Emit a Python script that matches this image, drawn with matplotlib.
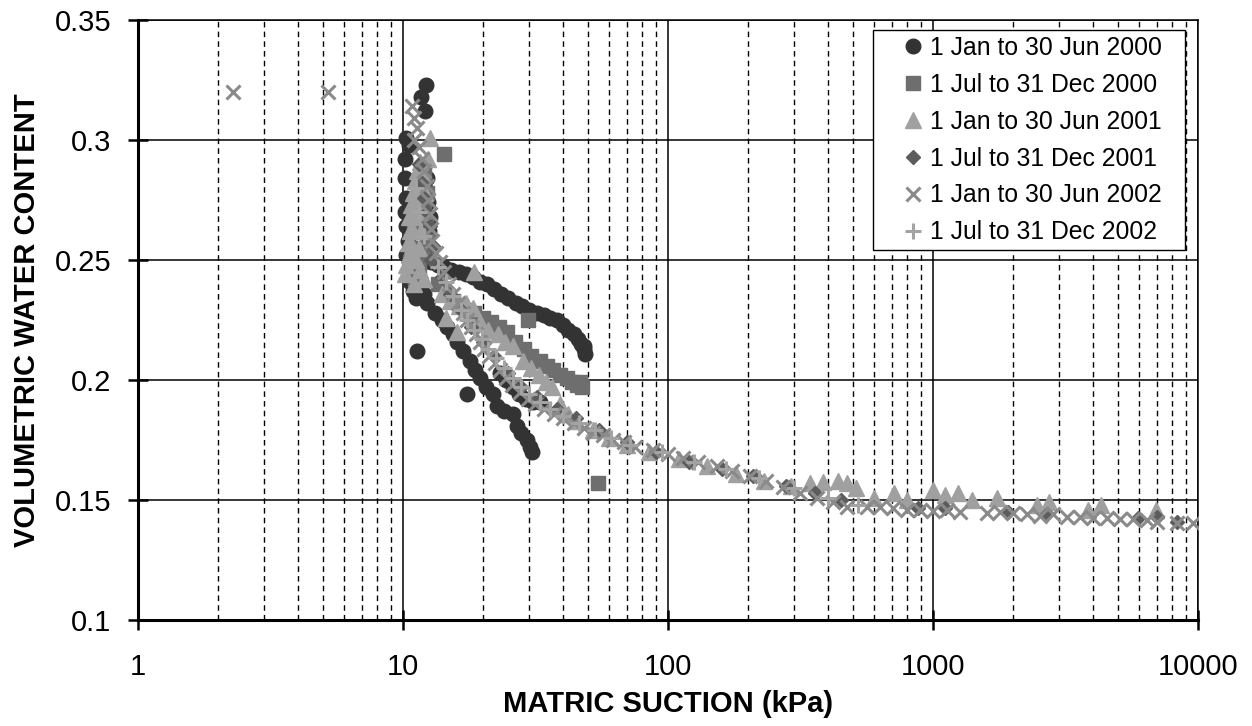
import matplotlib
matplotlib.use("Agg")
from matplotlib import pyplot as plt
from matplotlib.patches import Rectangle
from matplotlib.ticker import FixedLocator, NullFormatter, FuncFormatter

plt.rcParams['font.family'] = ['Liberation Sans', 'DejaVu Sans']

# 1 Jan to 30 Jun 2000 (circles)
s1_x = [12.2, 11.7, 12.1, 10.3, 10.5, 10.2, 10.2, 10.3, 10.2, 10.3, 10.4, 10.3, 10.5, 10.6, 10.9, 11.2,
        12.0, 12.3, 12.2, 12.4, 12.6, 12.5, 12.2, 11.8, 11.5, 11.0, 11.4, 12.0, 10.9, 11.3,
        12.8, 13.5, 14.3, 15.2, 16.2, 17.3, 18.4, 19.5, 20.8, 22.0, 23.5, 25.0, 26.6, 28.2, 30.0,
        32.0, 34.0, 36.0, 38.2, 40.0, 42.0, 44.0, 45.8, 47.0, 48.0, 48.6, 48.3,
        12.3, 13.2, 14.0, 14.7, 15.4, 16.0, 16.9, 17.9, 18.7, 19.5, 20.6, 21.8, 22.6, 24.0, 26.0,
        26.9, 28.0, 29.4, 30.6, 30.2,
        23.2, 24.5, 26.0, 27.5, 29.0, 31.0, 32.9,
        11.3, 17.4]
s1_y = [0.323, 0.318, 0.312, 0.301, 0.298, 0.292, 0.284, 0.276, 0.270, 0.264, 0.258, 0.252, 0.246, 0.241, 0.237, 0.234,
        0.289, 0.284, 0.279, 0.274, 0.268, 0.262, 0.256, 0.251, 0.247, 0.243, 0.238, 0.236, 0.255, 0.262,
        0.249, 0.248, 0.247, 0.246, 0.245, 0.244, 0.243, 0.241, 0.240, 0.238, 0.236, 0.234, 0.232, 0.231, 0.229,
        0.228, 0.227, 0.226, 0.225, 0.223, 0.221, 0.219, 0.217, 0.215, 0.213, 0.211, 0.214,
        0.232, 0.228, 0.225, 0.222, 0.219, 0.216, 0.212, 0.208, 0.204, 0.201, 0.197, 0.194, 0.189, 0.187, 0.186,
        0.181, 0.178, 0.175, 0.170, 0.172,
        0.203, 0.200, 0.197, 0.194, 0.192, 0.191, 0.191,
        0.212, 0.194]

# 1 Jul to 31 Dec 2000 (squares)
s2_x = [10.6, 10.8, 11.0, 11.2, 11.3, 11.6, 12.0, 12.2, 12.3, 11.9, 11.5, 11.1, 12.0, 12.3, 14.3,
        13.5, 14.5, 15.5, 16.5, 17.5, 18.6, 20.0, 21.5, 23.0, 24.7, 26.5, 28.5, 30.5, 32.9, 34.8,
        36.8, 39.0, 41.5, 43.5, 45.5, 46.7, 47.5, 29.6, 54.4]
s2_y = [0.249, 0.255, 0.262, 0.268, 0.274, 0.280, 0.272, 0.265, 0.258, 0.252, 0.246, 0.242, 0.286, 0.278, 0.294,
        0.240, 0.236, 0.233, 0.231, 0.229, 0.228, 0.226, 0.224, 0.222, 0.220, 0.216, 0.213, 0.210, 0.208, 0.206,
        0.204, 0.202, 0.201, 0.199, 0.198, 0.199, 0.197, 0.225, 0.157]

# 1 Jan to 30 Jun 2001 (triangles)
s3_x = [10.3, 10.5, 10.4, 10.6, 10.5, 10.7, 10.9, 11.1, 11.3, 11.6, 11.8, 11.4, 11.2, 11.0, 10.9, 10.8,
        11.2, 11.6, 12.0, 11.5, 11.7, 11.9, 12.1, 12.6, 12.4, 10.2, 11.0,
        18.5, 14.0, 15.0, 16.2, 17.3, 18.4, 19.5, 21.0, 22.8, 24.3, 26.0, 28.4, 30.5, 32.5, 34.5, 36.5,
        39.2, 42.0, 14.5, 16.0, 45.0, 52.0, 60.0, 70.0, 85.0, 110, 140, 180, 230, 290, 343, 386, 437,
        473, 510, 600, 713, 800, 1000, 1111, 1248, 1400, 1745, 2465, 2738, 3852, 4320, 6942]
s3_y = [0.248, 0.252, 0.257, 0.262, 0.268, 0.273, 0.278, 0.283, 0.287, 0.291, 0.286, 0.280, 0.274, 0.268, 0.262, 0.256,
        0.250, 0.246, 0.242, 0.255, 0.262, 0.270, 0.278, 0.301, 0.292, 0.244, 0.240,
        0.245, 0.236, 0.233, 0.231, 0.232, 0.230, 0.224, 0.221, 0.219, 0.216, 0.214, 0.208, 0.205, 0.202, 0.199, 0.197,
        0.190, 0.186, 0.226, 0.220, 0.183, 0.179, 0.176, 0.173, 0.170, 0.167, 0.164, 0.161, 0.158, 0.156, 0.157, 0.1575, 0.158,
        0.157, 0.155, 0.151, 0.153, 0.150, 0.154, 0.152, 0.153, 0.150, 0.151, 0.148, 0.149, 0.146, 0.148, 0.146]

# 1 Jul to 31 Dec 2001 (diamonds)
s4_x = [11.5, 11.8, 12.0, 12.3, 12.6, 13.0, 12.8, 14.0, 15.0, 16.5, 18.0, 20.0, 22.0, 25.0, 28.0, 32.0,
        38.0, 45.0, 55.0, 70.0, 90.0, 120, 160, 210, 280, 360, 450, 877, 1111, 1912, 2700, 5940, 7000, 8300]
s4_y = [0.290, 0.282, 0.276, 0.270, 0.264, 0.256, 0.250, 0.243, 0.236, 0.229, 0.222, 0.216, 0.210, 0.203, 0.197, 0.193,
        0.188, 0.184, 0.179, 0.174, 0.170, 0.166, 0.163, 0.160, 0.156, 0.153, 0.150, 0.1467, 0.1467, 0.145, 0.144, 0.1425, 0.143, 0.141]

# 1 Jan to 30 Jun 2002 (crosses)
s5_x = [2.28, 5.21,
        10.8, 11.0, 11.3, 11.0, 11.5, 11.8, 12.0, 12.3, 12.4, 12.6, 12.8, 12.9, 13.3, 13.8, 14.3, 14.9,
        15.5, 16.1, 16.8, 17.4, 18.1, 18.8, 19.5, 20.3, 21.2, 22.2, 23.3, 24.5, 25.8, 27.6, 29.5, 31.5,
        34.0, 37.0, 40.0, 44.0, 48.0, 52.0, 57.0, 62.0, 68.0, 75.0, 88.0, 100, 114, 130, 153, 175, 204,
        235, 272, 315, 364, 420, 473,
        564, 630, 707, 797, 894, 1000, 1129, 1265, 1600, 1790, 2005, 2263, 2535, 2840, 3206, 3590,
        4020, 4538, 5083, 5692, 6426, 7000, 8340, 9580]
s5_y = [0.320, 0.320,
        0.314, 0.309, 0.305, 0.300, 0.297, 0.292, 0.287, 0.281, 0.275, 0.269, 0.263, 0.258, 0.253, 0.249, 0.245, 0.240,
        0.236, 0.232, 0.228, 0.225, 0.222, 0.219, 0.216, 0.213, 0.210, 0.207, 0.204, 0.201, 0.198, 0.195, 0.192, 0.190,
        0.188, 0.186, 0.184, 0.182, 0.180, 0.178, 0.177, 0.175, 0.174, 0.172, 0.171, 0.169, 0.1675, 0.166, 0.164, 0.162, 0.160,
        0.158, 0.1555, 0.153, 0.151, 0.149, 0.147,
        0.147, 0.147, 0.1465, 0.146, 0.146, 0.1455, 0.146, 0.145, 0.1445, 0.145, 0.1445, 0.144, 0.1435, 0.144, 0.143, 0.143,
        0.1425, 0.1425, 0.142, 0.142, 0.1415, 0.141, 0.1405, 0.1405]

# 1 Jul to 31 Dec 2002 (plus)
s6_x = [11.2, 11.5, 12.0, 13.5, 14.5, 15.5, 16.5, 17.5, 18.5, 19.8, 21.0, 22.5, 24.0, 26.0, 28.0, 30.0,
        33.0, 36.0, 40.0, 46.0, 53.0, 61.0, 72.0, 95.0, 125, 165, 220, 300, 400, 520]
s6_y = [0.280, 0.270, 0.260, 0.247, 0.241, 0.235, 0.229, 0.225, 0.221, 0.217, 0.213, 0.209, 0.205, 0.201, 0.197, 0.194,
        0.191, 0.188, 0.185, 0.182, 0.179, 0.176, 0.173, 0.170, 0.166, 0.163, 0.159, 0.155, 0.151, 0.148]

labels = ["1 Jan to 30 Jun 2000", "1 Jul to 31 Dec 2000", "1 Jan to 30 Jun 2001",
          "1 Jul to 31 Dec 2001", "1 Jan to 30 Jun 2002", "1 Jul to 31 Dec 2002"]

x_ticks = [1, 10, 100, 1000, 10000]
y_ticks = [0.1, 0.15, 0.2, 0.25, 0.3, 0.35]
y_tick_labels = ["0.1", "0.15", "0.2", "0.25", "0.3", "0.35"]

W, H = 1252, 726
fig = plt.figure(figsize=(W / 100, H / 100), dpi=100)
ax = fig.add_axes([138 / W, 1 - 620 / H, 1060 / W, 600 / H])

ax.plot(s1_x, s1_y, 'o', ms=10.5, color='#333333', mec='#333333', label=labels[0], zorder=3)
ax.plot(s2_x, s2_y, 's', ms=10, color='#6e6e6e', mec='#6e6e6e', label=labels[1], zorder=3)
ax.plot(s3_x, s3_y, '^', ms=11, color='#a0a0a0', mec='#a0a0a0', label=labels[2], zorder=3)
ax.plot(s4_x, s4_y, 'D', ms=7, color='#5c5c5c', mec='#5c5c5c', label=labels[3], zorder=3)
ax.plot(s5_x, s5_y, 'x', ms=10, mew=2.2, color='#8a8a8a', label=labels[4], zorder=3)
ax.plot(s6_x, s6_y, '+', ms=11, mew=2.2, color='#a3a3a3', label=labels[5], zorder=3)

ax.set_xscale('log')
ax.set_xlim(1, 10000)
ax.set_ylim(0.1, 0.35)

ax.xaxis.set_major_locator(FixedLocator(x_ticks))
ax.xaxis.set_major_formatter(FuncFormatter(lambda v, p: "%d" % v))
ax.xaxis.set_minor_locator(FixedLocator([m * d for d in [1, 10, 100, 1000] for m in range(2, 10)]))
ax.xaxis.set_minor_formatter(NullFormatter())
ax.set_yticks(y_ticks)
ax.set_yticklabels(y_tick_labels)

ax.grid(True, which='major', axis='both', color='black', lw=1.1, ls='-')
ax.grid(True, which='minor', axis='x', color='black', lw=1, ls=(0, (4, 3)))
ax.set_axisbelow(True)

for side in ['left', 'bottom']:
    ax.spines[side].set_linewidth(2.2)
for side in ['top', 'right']:
    ax.spines[side].set_linewidth(1.1)

ax.tick_params(axis='both', which='major', direction='inout', length=14, width=1.8, labelsize=21)
ax.tick_params(axis='x', which='major', pad=17)
ax.tick_params(axis='y', which='major', pad=12)
ax.tick_params(which='minor', length=0)

ax.set_xlabel("MATRIC SUCTION (kPa)", fontsize=21, fontweight='bold', labelpad=6)
ax.set_ylabel("VOLUMETRIC WATER CONTENT", fontsize=21, fontweight='bold', labelpad=10)

# legend frame drawn by hand (wider left margin than matplotlib's pad)
ax.add_patch(Rectangle((873 / W, 1 - 250 / H), 312 / W, 220 / H, transform=fig.transFigure,
                       facecolor='white', edgecolor='black', lw=1, zorder=4, clip_on=False))
leg = ax.legend(loc='upper left', bbox_to_anchor=(898 / W, 1 - 36 / H), bbox_transform=fig.transFigure,
                borderaxespad=0, borderpad=0, fontsize=17.8, frameon=False,
                handlelength=1.2, handletextpad=0.1, labelspacing=0.52, markerscale=1)
leg.set_zorder(5)

fig.savefig("out.png", dpi=100)
